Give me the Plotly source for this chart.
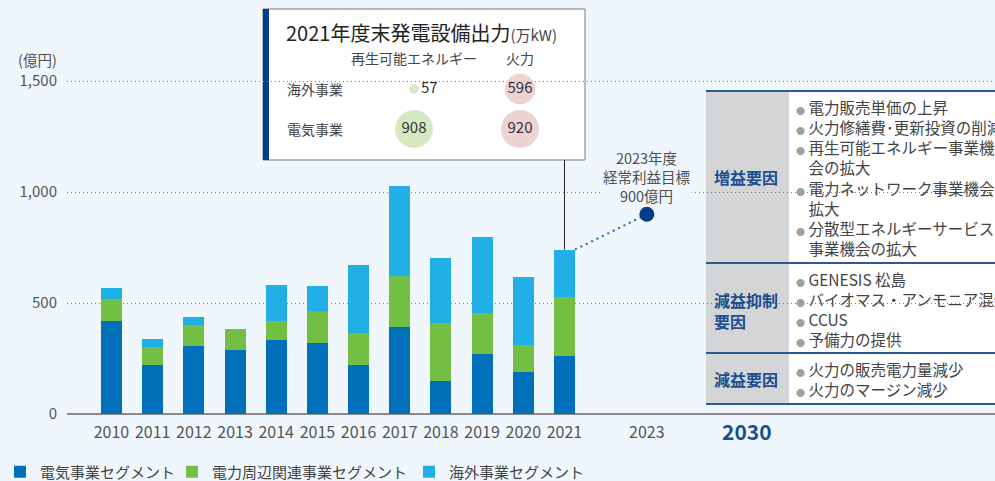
import plotly.graph_objects as go

# ---------------- data ----------------
years = [2010, 2011, 2012, 2013, 2014, 2015, 2016, 2017, 2018, 2019, 2020, 2021]
electric = [417, 223, 308, 290, 335, 322, 223, 394, 151, 272, 191, 263]
peripheral = [103, 81, 95, 95, 86, 144, 141, 230, 261, 185, 122, 263]
overseas = [50, 36, 36, 0, 162, 113, 309, 405, 293, 343, 306, 215]
series_names = ["電気事業セグメント", "電力周辺関連事業セグメント", "海外事業セグメント"]

target_year = 2023
target_value = 900
target_label = "2023年度<br>経常利益目標<br>900億円"
future_label = "2030"

y_ticks = [0, 500, 1000, 1500]
y_unit = "(億円)"

inset_title = "2021年度末発電設備出力"
inset_unit = "(万kW)"
cap_cols = ["再生可能エネルギー", "火力"]
cap_rows = ["海外事業", "電気事業"]
cap_renew = [57, 908]    # 海外事業, 電気事業
cap_thermal = [596, 920]

table_heads = ["増益要因", "減益抑制<br>要因", "減益要因"]
table_items = [
    ["電力販売単価の上昇", "火力修繕費･更新投資の削減", "再生可能エネルギー事業機|会の拡大",
     "電力ネットワーク事業機会の|拡大", "分散型エネルギーサービス|事業機会の拡大"],
    ["GENESIS 松島", "バイオマス・アンモニア混焼", "CCUS", "予備力の提供"],
    ["火力の販売電力量減少", "火力のマージン減少"],
]

# ---------------- styling ----------------
FONT = "Noto Sans CJK JP"
BG = "#eff7fd"
C_ELEC = "#0070ba"
C_PERI = "#72bf44"
C_OVER = "#20b0e6"
NAVY = "#003f87"
TXT = "#505050"

W, H = 995, 481
ML, MR, MT, MB = 67, 0, 59, 67
PW = W - ML - MR
PH = H - MT - MB
Y_MAX = 1600
X0 = 2010 - (111.5 - ML) / 41.18
X1 = X0 + PW / 41.18
BAR_W = 0.51
LEGEND_W = [127, 192, 140]


def px(x):
    return (x - ML) / PW


def py(y):
    return (H - MB - y) / PH


def yval(ypx):
    return (H - MB - ypx) * Y_MAX / PH


fig = go.Figure()
for name, vals, col, lw in zip(series_names, [electric, peripheral, overseas],
                               [C_ELEC, C_PERI, C_OVER], LEGEND_W):
    fig.add_trace(go.Bar(x=years, y=vals, name=name, marker=dict(color=col, line_width=0),
                         width=BAR_W, legendwidth=lw))

totals = [a + b + c for a, b, c in zip(electric, peripheral, overseas)]

# dotted connector to target
fig.add_trace(go.Scatter(x=[years[-1] + BAR_W / 2, target_year], y=[totals[-1], target_value],
                         mode="lines", line=dict(color="#2a64a6", width=2, dash="2px,4px"),
                         showlegend=False, hoverinfo="skip"))
fig.add_trace(go.Scatter(x=[target_year], y=[target_value], mode="markers",
                         marker=dict(color=NAVY, size=15), showlegend=False, hoverinfo="skip"))

# inset bubbles
max_cap = max(cap_renew + cap_thermal)
sref = max_cap / 2 / (19 ** 2)
fig.add_trace(go.Scatter(
    x=[cap_cols[0]] * 2, y=cap_rows, mode="markers+text",
    text=[str(v) for v in cap_renew], textposition=["middle right", "middle center"],
    textfont=dict(family=FONT, size=15, color="#333"),
    marker=dict(size=cap_renew, sizemode="area", sizeref=sref, color="#c4e0aa", line_width=0),
    xaxis="x2", yaxis="y2", showlegend=False, hoverinfo="skip", cliponaxis=False))
fig.add_trace(go.Scatter(
    x=[cap_cols[1]] * 2, y=cap_rows, mode="markers+text",
    text=[str(v) for v in cap_thermal], textposition="middle center",
    textfont=dict(family=FONT, size=15, color="#333"),
    marker=dict(size=cap_thermal, sizemode="area", sizeref=sref, color="#e5c0c1", line_width=0),
    xaxis="x2", yaxis="y2", showlegend=False, hoverinfo="skip", cliponaxis=False))

shapes = []
# vertical leader line from inset to 2021 bar
shapes.append(dict(type="line", xref="x", yref="y", x0=years[-1], x1=years[-1],
                   y0=totals[-1], y1=yval(160), line=dict(color="#222", width=1), layer="above"))
# inset box
shapes.append(dict(type="rect", xref="paper", yref="paper", x0=px(263), x1=px(585), y0=py(160), y1=py(9),
                   fillcolor="white", line=dict(color="#7a7a7a", width=1), layer="below"))
shapes.append(dict(type="rect", xref="paper", yref="paper", x0=px(263), x1=px(269), y0=py(160), y1=py(9),
                   fillcolor=NAVY, line_width=0, layer="below"))
# table
shapes.append(dict(type="rect", xref="paper", yref="paper", x0=px(706), x1=px(789), y0=py(404), y1=py(91),
                   fillcolor="#d4d5d7", line_width=0, layer="below"))
shapes.append(dict(type="rect", xref="paper", yref="paper", x0=px(789), x1=px(995), y0=py(404), y1=py(91),
                   fillcolor="white", line_width=0, layer="below"))
for yy in [91, 263, 353, 404]:
    shapes.append(dict(type="line", xref="paper", yref="paper", x0=px(706), x1=px(995), y0=py(yy), y1=py(yy),
                       line=dict(color="#2b5a94", width=2), layer="above"))

ann = []
ann.append(dict(text=y_unit, x=px(59), y=py(59), xanchor="right", yanchor="middle",
                font=dict(size=14.5, color=TXT)))
ann.append(dict(text=target_label, x=target_year, xref="x", y=py(176), yanchor="middle",
                font=dict(size=14.5, color=TXT), bgcolor=BG, borderpad=0))
ann.append(dict(text=future_label, x=px(747), y=py(431), xanchor="center", yanchor="middle",
                font=dict(size=21, color="#1b4f8f", weight="bold")))
# inset text
ann.append(dict(text=inset_title + "<span style='font-size:15px;color:#444'>" + inset_unit + "</span>",
                x=px(284), y=py(32), xanchor="left", yanchor="middle",
                font=dict(size=20, color="#222")))
for c, xx in zip(cap_cols, [414, 520]):
    ann.append(dict(text=c, x=px(xx), y=py(58), xanchor="center", yanchor="middle",
                    font=dict(size=14, color="#444")))
for r, yy in zip(cap_rows, [89, 129]):
    ann.append(dict(text=r, x=px(285), y=py(yy), xanchor="left", yanchor="middle",
                    font=dict(size=14, color="#444")))
# table text
head_y = [177, 310, 379]
for h, yy in zip(table_heads, head_y):
    ann.append(dict(text=h, x=px(712), y=py(yy), xanchor="left", yanchor="middle", align="left",
                    font=dict(size=16, color="#1b4f8f", weight="bold")))
TS = 15.5
LS = TS * 1.3
row_start = [107, 279, 369]
BUL = "<span style='font-size:9px;color:#a0a0a0'>●</span> "
BUL_HID = "<span style='font-size:9px;color:rgba(0,0,0,0)'>●</span> "
for items, y0 in zip(table_items, row_start):
    lines = []
    for it in items:
        for k, p in enumerate(it.split("|")):
            lines.append((BUL if k == 0 else BUL_HID) + p)
    center = y0 + (len(lines) - 1) * LS / 2
    if len(lines) == 2:
        center = y0 + 9.5
    ann.append(dict(text="<br>".join(lines), x=px(794), y=py(center), xanchor="left", yanchor="middle",
                    align="left", font=dict(size=TS, color="#444")))

for a in ann:
    a.setdefault("xref", "paper")
    a.setdefault("yref", "paper")
    a["showarrow"] = False

tickvals_x = years + [target_year]
fig.update_layout(
    width=W, height=H, margin=dict(l=ML, r=MR, t=MT, b=MB, autoexpand=False),
    paper_bgcolor=BG, plot_bgcolor="rgba(0,0,0,0)", barmode="stack", bargap=0,
    font=dict(family=FONT, color=TXT),
    shapes=shapes, annotations=ann,
    showlegend=True,
    legend=dict(orientation="h", x=px(0), xanchor="left", y=py(472), yanchor="middle",
                font=dict(size=15, color="#444"), bgcolor="rgba(0,0,0,0)", itemwidth=30,
                traceorder="normal", borderwidth=0),
    xaxis=dict(range=[X0, X1], tickvals=tickvals_x, ticktext=[str(v) for v in tickvals_x],
               showgrid=False, zeroline=False, showline=False, ticks="", automargin=False,
               tickfont=dict(size=16, color="#555"), ticklabelstandoff=7, fixedrange=True),
    yaxis=dict(range=[0, Y_MAX], tickvals=y_ticks, tickformat=",", showgrid=True,
               gridcolor="#7d7d7d", griddash="1px,3px", gridwidth=1, automargin=False,
               zeroline=True, zerolinecolor="#8a8a8a", zerolinewidth=2,
               showline=False, ticks="", tickfont=dict(size=15, color="#555"),
               ticklabelstandoff=9, fixedrange=True),
    xaxis2=dict(domain=[px(361), px(573)], anchor="y2", type="category", automargin=False,
                categoryorder="array", categoryarray=cap_cols, range=[-0.5, 1.5], visible=False),
    yaxis2=dict(domain=[py(149), py(69)], anchor="x2", type="category", automargin=False,
                categoryorder="array", categoryarray=cap_rows[::-1], range=[-0.5, 1.5], visible=False),
)

fig.write_html("out.html", config={"displayModeBar": False},
               post_script="document.body.style.margin='0';document.body.style.overflow='hidden';")
